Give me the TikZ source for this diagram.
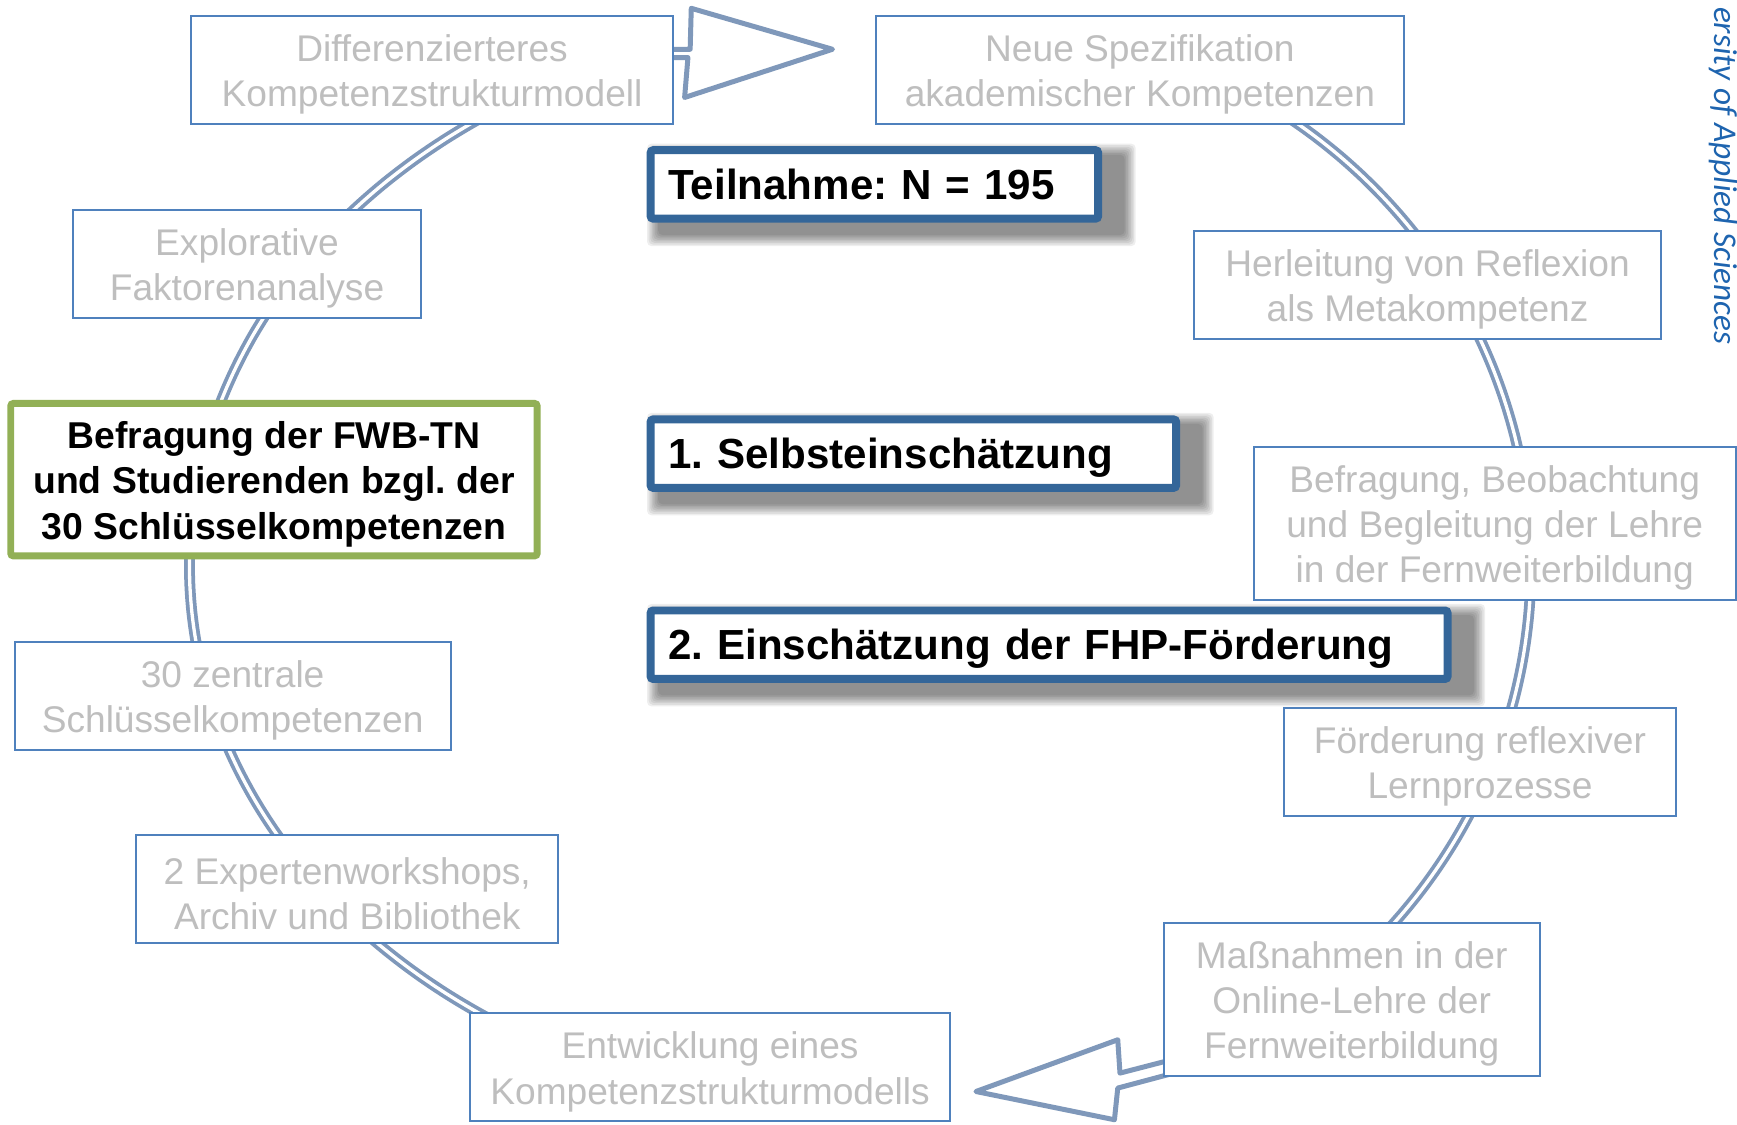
\documentclass[tikz,border=0pt]{standalone}
\usepackage{fontspec}
\setmainfont{Liberation Sans}
\newfontfamily\carlito{Carlito}
\usetikzlibrary{backgrounds}
\frenchspacing
\definecolor{ring}{RGB}{127,152,186}
\definecolor{boxblue}{RGB}{79,129,189}
\definecolor{txtgray}{RGB}{190,190,190}
\definecolor{darkblue}{RGB}{52,102,153}
\definecolor{greenbox}{RGB}{146,176,86}
\definecolor{fhpblue}{RGB}{30,100,175}
\newcommand{\fls}{\rule{0pt}{16.3pt}}
\newcommand{\boxshadow}[1]{%
  \foreach \e in {5,3.6,2.1,0.7,-0.7,-2.1,-3.6,-5}{%
    \fill[black,opacity=0.065,rounded corners=2pt] ([shift={({5.4-(\e)},{2.7-(\e)})}]#1.north west) rectangle ([shift={({25.3+(\e)},{16.2+(\e)})}]#1.south east);}}
\begin{document}
\begin{tikzpicture}[x=0.5pt,y=-0.5pt,
  gbox/.style={draw=boxblue, line width=0.9pt, fill=white, text=txtgray, align=center, inner sep=0pt,
     font=\fontsize{16.75}{20.4}\selectfont},
  twoline/.style={minimum height=48.8pt},
  threeline/.style={minimum height=69.2pt},
  hbox/.style={draw=darkblue, line width=3.6pt, fill=white, text=black, align=left, inner xsep=8pt, inner ysep=0pt,
     rounded corners=1.2pt,
     font=\fontsize{19}{22}\selectfont\bfseries, text height=13.6pt, text depth=0pt, minimum height=30.9pt},
  greenstyle/.style={draw=greenbox, line width=3.15pt, fill=white, text=black, align=center, inner sep=0pt,
     rounded corners=1.2pt, font=\fontsize{16.85}{20.4}\selectfont\bfseries},
  ringline/.style={draw=ring, line width=1.7pt, double=white, double distance=1.5pt},
  arrowshape/.style={draw=ring, line width=2.25pt, fill=white, line join=round}]
\useasboundingbox (0,0) rectangle (1568,1015);

% cycle ring (behind the boxes)
\draw[ringline] plot[domain=-65:62, samples=90, smooth] ({775-604*cos(\x)},{511+490*sin(\x)});
\draw[ringline] plot[domain=-68:62, samples=90, smooth] ({881+501*cos(\x)},{511+490*sin(\x)});

% block arrows
\draw[arrowshape] (600,44.5) -- (623,44.5) -- (624,7.5) -- (751.5,44.5) -- (618,88) -- (621,52) -- (600,52) -- cycle;
\draw[arrowshape] (1060,956.0) -- (1011,968.7) -- (1009,938.6) -- (881,985.3) -- (1006,1010.8) -- (1009,982.2) -- (1060,968.6) -- cycle;

% cycle boxes
\node[gbox, twoline, minimum width=217.5pt] (dif) at (390,63.2) {\fls Differenzierteres\\Kompetenzstrukturmodell};
\node[gbox, twoline, minimum width=238pt] (neu) at (1029,63.2) {\fls Neue Spezifikation\\akademischer Kompetenzen};
\node[gbox, twoline, minimum width=157pt] (expl) at (223,238) {\fls Explorative\\Faktorenanalyse};
\node[gbox, twoline, minimum width=196.9pt] (zent) at (210,628) {\fls 30 zentrale\\Schlüsselkompetenzen};
\node[gbox, twoline, minimum width=190.6pt] (expw) at (313.5,802.4) {\fls 2 Expertenworkshops,\\Archiv und Bibliothek};
\node[gbox, twoline, minimum width=216.4pt] (entw) at (641,963.5) {\fls Entwicklung eines\\Kompetenzstrukturmodells};
\node[gbox, twoline, minimum width=176.6pt] (foerd) at (1336,687.5) {\fls Förderung reflexiver\\Lernprozesse};
\node[gbox, twoline, minimum width=210.8pt] (herl) at (1288.7,257.3) {\fls Herleitung von Reflexion\\als Metakompetenz};
\node[gbox, threeline, minimum width=169.7pt] (mass) at (1220.2,902.3) {\fls Maßnahmen in der\\Online-Lehre der\\Fernweiterbildung};
\node[gbox, threeline, minimum width=217.4pt] (beob) at (1349.3,472.3) {\fls Befragung, Beobachtung\\und Begleitung der Lehre\\in der Fernweiterbildung};

% highlighted box
\node[greenstyle, minimum width=237.6pt, minimum height=68.8pt] (befr) at (247.3,433) {\fls Befragung der FWB-TN\\und Studierenden bzgl. der\\30 Schlüsselkompetenzen};

% central blue boxes
\node[hbox, text width=186pt] (teil) at (789.3,166.5) {Teilnahme: N = 195};
\node[hbox, text width=221.2pt] (selbst) at (824.5,409.5) {1. Selbsteinschätzung};
\node[hbox, text width=343.7pt] (einsch) at (947,582) {2. Einschätzung der FHP-Förderung};
\begin{scope}[on background layer]
\fill[white] (0,0) rectangle (1568,1015);
\boxshadow{teil}\boxshadow{selbst}\boxshadow{einsch}
\end{scope}

% vertical text at the right edge
\node[rotate=-90, anchor=base east, inner sep=0pt, text=fhpblue, font=\carlito\itshape\fontsize{15}{18}\selectfont] (fhp) at (1548,311) {ersity of Applied Sciences};
\end{tikzpicture}
\end{document}
